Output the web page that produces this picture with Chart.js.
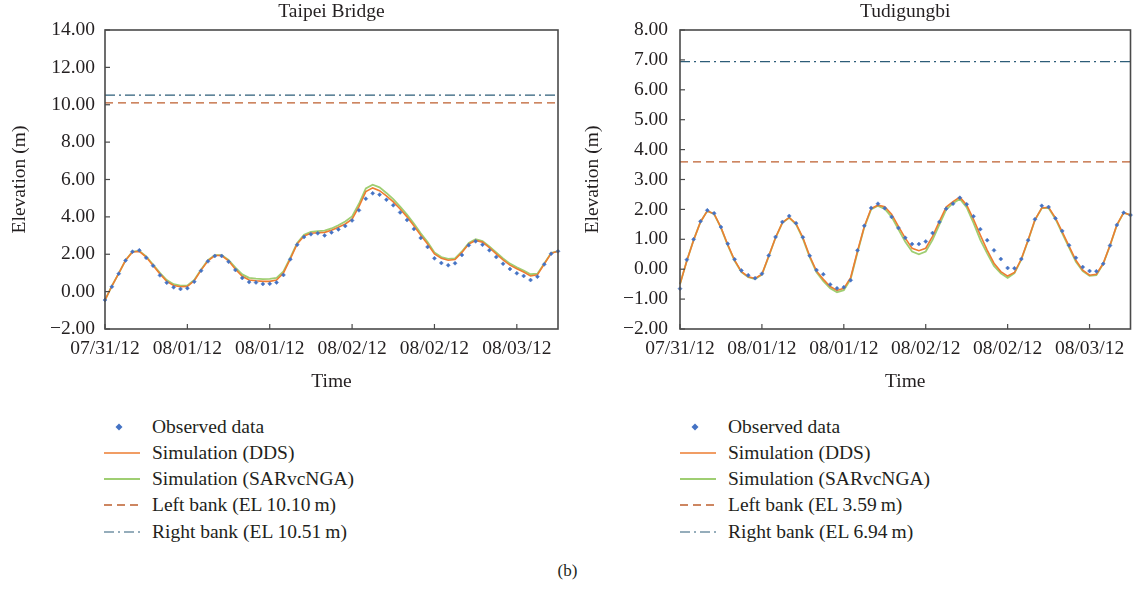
<!DOCTYPE html>
<html><head><meta charset="utf-8">
<script src="https://cdn.jsdelivr.net/npm/chart.js@4.4.1/dist/chart.umd.min.js"></script>
<style>
html,body{margin:0;padding:0;background:#fff;}
body{width:1135px;height:590px;position:relative;overflow:hidden;font-family:"Liberation Serif",serif;color:#231f20;}
canvas{position:absolute;top:0;}
#c1{left:0;} #c2{left:567px;}
.legend{position:absolute;top:413.5px;font-size:19.5px;line-height:26.3px;}
.legend .row{position:relative;height:26.3px;width:320px;white-space:nowrap;}
.legend svg{position:absolute;left:0;top:0;}
.legend span{position:absolute;left:48px;top:0;}
#lg1{left:104px;} #lg2{left:680px;}
#cap{position:absolute;left:0;width:1135px;text-align:center;top:561px;font-size:17px;}
</style></head>
<body>
<canvas id="c1" width="567" height="400"></canvas>
<canvas id="c2" width="568" height="400"></canvas>
<div class="legend" id="lg1"></div>
<div class="legend" id="lg2"></div>
<div id="cap">(b)</div>
<script>
// ---------- data ----------
const TIME_LABELS = ["07/31/12","08/01/12","08/01/12","08/02/12","08/02/12","08/03/12"];
const SERIES_NAMES = ["Observed data","Simulation (DDS)","Simulation (SARvcNGA)"];

const TB_TITLE = "Taipei Bridge";
const TB_OBS = [-0.45,0.26,0.96,1.67,2.14,2.21,1.81,1.39,0.87,0.48,0.23,0.14,0.18,0.53,1.12,1.62,1.91,1.91,1.60,1.16,0.73,0.51,0.49,0.41,0.42,0.49,0.89,1.73,2.51,2.92,3.07,3.12,3.01,3.17,3.33,3.51,3.81,4.35,4.97,5.26,5.19,4.92,4.62,4.24,3.83,3.35,2.87,2.39,1.78,1.53,1.41,1.52,1.96,2.48,2.69,2.51,2.21,1.85,1.49,1.21,0.98,0.84,0.62,0.80,1.46,2.03,2.16];
const TB_DDS = [-0.45,0.30,0.98,1.68,2.12,2.15,1.85,1.40,0.95,0.55,0.33,0.26,0.28,0.58,1.15,1.65,1.93,1.93,1.65,1.20,0.82,0.62,0.58,0.55,0.55,0.62,1.00,1.75,2.55,2.98,3.12,3.15,3.17,3.28,3.45,3.62,3.88,4.55,5.35,5.55,5.40,5.12,4.80,4.42,4.00,3.52,3.02,2.55,2.02,1.78,1.68,1.72,2.10,2.55,2.74,2.65,2.35,2.02,1.70,1.42,1.22,1.05,0.84,0.90,1.48,2.05,2.16];
const TB_SAR = [-0.45,0.30,0.98,1.68,2.14,2.18,1.88,1.45,1.00,0.62,0.40,0.32,0.33,0.62,1.18,1.68,1.95,1.95,1.70,1.28,0.92,0.74,0.70,0.67,0.68,0.74,1.08,1.82,2.60,3.05,3.20,3.24,3.26,3.38,3.55,3.75,4.02,4.70,5.52,5.72,5.58,5.28,4.95,4.55,4.12,3.64,3.12,2.65,2.10,1.85,1.75,1.78,2.15,2.60,2.80,2.70,2.42,2.10,1.78,1.50,1.30,1.13,0.93,0.96,1.50,2.07,2.17];
const TB_LEFT_BANK = 10.10;
const TB_RIGHT_BANK = 10.51;
const TB_Y_MIN = -2, TB_Y_MAX = 14, TB_Y_STEP = 2;

const TD_TITLE = "Tudigungbi";
const TD_OBS = [-0.65,0.32,1.00,1.60,1.97,1.87,1.41,0.85,0.33,-0.04,-0.20,-0.30,-0.15,0.46,1.08,1.58,1.78,1.54,1.07,0.45,-0.03,-0.17,-0.51,-0.64,-0.60,-0.37,0.63,1.45,2.05,2.19,2.04,1.75,1.38,1.05,0.84,0.84,0.93,1.21,1.58,2.02,2.19,2.39,2.17,1.77,1.34,0.97,0.63,0.34,0.04,0.03,0.34,0.97,1.67,2.12,2.08,1.70,1.28,0.80,0.38,0.07,-0.06,-0.07,0.18,0.79,1.48,1.89,1.81];
const TD_DDS = [-0.50,0.28,0.98,1.58,1.95,1.85,1.40,0.82,0.30,-0.08,-0.25,-0.31,-0.17,0.44,1.06,1.56,1.73,1.52,1.06,0.44,-0.06,-0.34,-0.58,-0.71,-0.64,-0.28,0.60,1.43,2.03,2.14,2.09,1.84,1.43,1.04,0.70,0.62,0.70,1.10,1.60,2.08,2.26,2.41,2.15,1.67,1.14,0.64,0.20,-0.08,-0.23,-0.11,0.34,0.98,1.65,2.05,2.07,1.72,1.25,0.77,0.30,-0.03,-0.20,-0.17,0.19,0.80,1.48,1.89,1.81];
const TD_SAR = [-0.50,0.28,0.98,1.58,1.95,1.84,1.38,0.80,0.28,-0.10,-0.27,-0.33,-0.18,0.43,1.05,1.55,1.72,1.50,1.02,0.40,-0.10,-0.40,-0.64,-0.77,-0.70,-0.33,0.56,1.40,2.00,2.12,2.02,1.75,1.33,0.92,0.59,0.50,0.59,0.98,1.49,1.99,2.21,2.35,2.07,1.55,0.98,0.53,0.11,-0.14,-0.29,-0.13,0.32,0.96,1.64,2.04,2.05,1.68,1.20,0.72,0.25,-0.06,-0.22,-0.20,0.18,0.79,1.47,1.89,1.81];
const TD_LEFT_BANK = 3.59;
const TD_RIGHT_BANK = 6.94;
const TD_Y_MIN = -2, TD_Y_MAX = 8, TD_Y_STEP = 1;

const X_MAX_HOURS = 66, X_STEP_HOURS = 12;

// ---------- styles ----------
const FONT = '"Liberation Serif", serif';
const TEXT_COLOR = '#231f20';
const AXIS_COLOR = '#4a4a4a';
const C_OBS = '#4472c4';
const C_DDS = '#ed7d31';
const C_SAR = '#9fce72';
const C_LEFT = '#bd5f2e';
const C_RIGHT = '#2d5d78';
const DASH_LEFT = [8,5];
const DASH_RIGHT = [10,4,2,4];

const framePlugin = {
  id: 'frame',
  afterDraw(chart) {
    const {ctx, chartArea: a, scales: {x, y}} = chart;
    ctx.save();
    ctx.strokeStyle = AXIS_COLOR;
    ctx.lineWidth = 1.6;
    ctx.strokeRect(a.left, a.top, a.right - a.left, a.bottom - a.top);
    ctx.lineWidth = 1.2;
    y.ticks.forEach(t => {
      const p = y.getPixelForValue(t.value);
      ctx.beginPath(); ctx.moveTo(a.left, p); ctx.lineTo(a.left + 5, p); ctx.stroke();
    });
    x.ticks.forEach(t => {
      const p = x.getPixelForValue(t.value);
      ctx.beginPath(); ctx.moveTo(p, a.bottom); ctx.lineTo(p, a.bottom - 5); ctx.stroke();
    });
    ctx.restore();
  }
};

function pts(arr) { return arr.map((v, i) => ({x: i, y: v})); }
function flat(v) { return [{x: 0, y: v}, {x: X_MAX_HOURS, y: v}]; }

function makeChart(id, title, obs, dds, sar, lb, rb, ymin, ymax, ystep, yAxisWidth, yTitlePad, yTickPad, padRight) {
  return new Chart(document.getElementById(id), {
    type: 'line',
    data: {
      datasets: [
        {label: SERIES_NAMES[0], data: pts(obs), showLine: false, pointStyle: 'rectRot', pointRadius: 2,
         pointBackgroundColor: C_OBS, pointBorderColor: C_OBS, pointBorderWidth: 0.5, clip: false},
        {label: SERIES_NAMES[1], data: pts(dds), borderColor: C_DDS, borderWidth: 1.6, pointRadius: 0, tension: 0, clip: false},
        {label: SERIES_NAMES[2], data: pts(sar), borderColor: C_SAR, borderWidth: 1.8, pointRadius: 0, tension: 0, clip: false},
        {label: 'Left bank', data: flat(lb), borderColor: C_LEFT, borderWidth: 1.4, borderDash: DASH_LEFT, pointRadius: 0},
        {label: 'Right bank', data: flat(rb), borderColor: C_RIGHT, borderWidth: 1.2, borderDash: DASH_RIGHT, pointRadius: 0}
      ]
    },
    options: {
      responsive: false,
      animation: false,
      events: [],
      layout: {padding: {left: 0, right: padRight, top: 0, bottom: 0}},
      plugins: {
        legend: {display: false},
        tooltip: {enabled: false},
        title: {display: true, text: title, fullSize: false, color: TEXT_COLOR,
                font: {family: FONT, size: 19.5, weight: 'normal', lineHeight: 1},
                padding: {top: 2, bottom: 8.5}}
      },
      scales: {
        x: {
          type: 'linear', min: 0, max: X_MAX_HOURS,
          grid: {display: false, drawTicks: false},
          border: {display: false},
          ticks: {stepSize: X_STEP_HOURS, includeBounds: false, autoSkip: false, maxRotation: 0,
                  padding: 8, color: TEXT_COLOR, font: {family: FONT, size: 19.5},
                  callback: v => TIME_LABELS[Math.round(v / X_STEP_HOURS)]},
          title: {display: true, text: 'Time', color: TEXT_COLOR, font: {family: FONT, size: 19.5, lineHeight: 1.2},
                  padding: {top: 4, bottom: 6}},
          afterFit(s) { s.height = 71; }
        },
        y: {
          min: ymin, max: ymax,
          grid: {display: false, drawTicks: false},
          border: {display: false},
          ticks: {stepSize: ystep, padding: yTickPad, color: TEXT_COLOR, font: {family: FONT, size: 19.5},
                  callback: v => v.toFixed(2).replace('-', '\u2212')},
          title: {display: true, text: 'Elevation (m)', color: TEXT_COLOR, font: {family: FONT, size: 19.5, lineHeight: 1.2},
                  padding: {top: yTitlePad, bottom: 4}},
          afterFit(s) { s.width = yAxisWidth; }
        }
      }
    },
    plugins: [framePlugin]
  });
}

makeChart('c1', TB_TITLE, TB_OBS, TB_DDS, TB_SAR, TB_LEFT_BANK, TB_RIGHT_BANK, TB_Y_MIN, TB_Y_MAX, TB_Y_STEP, 105, 8, 10, 9);
makeChart('c2', TD_TITLE, TD_OBS, TD_DDS, TD_SAR, TD_LEFT_BANK, TD_RIGHT_BANK, TD_Y_MIN, TD_Y_MAX, TD_Y_STEP, 113, 14, 12, 3);

// ---------- HTML legends ----------
function legendHTML(lb, rb) {
  const items = [
    {svg: '<path d="M15 9.5 L18.5 13 L15 16.5 L11.5 13 Z" fill="' + C_OBS + '"/>', text: SERIES_NAMES[0]},
    {svg: '<line x1="0" y1="13" x2="36" y2="13" stroke="' + C_DDS + '" stroke-width="1.6"/>', text: SERIES_NAMES[1]},
    {svg: '<line x1="0" y1="13" x2="36" y2="13" stroke="' + C_SAR + '" stroke-width="1.8"/>', text: SERIES_NAMES[2]},
    {svg: '<line x1="0" y1="13" x2="36" y2="13" stroke="' + C_LEFT + '" stroke-width="1.4" stroke-dasharray="' + DASH_LEFT.join(',') + '"/>',
     text: 'Left bank (EL ' + lb.toFixed(2) + '\u2009m)'},
    {svg: '<line x1="0" y1="13" x2="36" y2="13" stroke="' + C_RIGHT + '" stroke-width="1.2" stroke-dasharray="' + DASH_RIGHT.join(',') + '"/>',
     text: 'Right bank (EL ' + rb.toFixed(2) + '\u2009m)'}
  ];
  return items.map(it => '<div class="row"><svg width="36" height="26">' + it.svg + '</svg><span>' + it.text + '</span></div>').join('');
}
document.getElementById('lg1').innerHTML = legendHTML(TB_LEFT_BANK, TB_RIGHT_BANK);
document.getElementById('lg2').innerHTML = legendHTML(TD_LEFT_BANK, TD_RIGHT_BANK);
</script>
</body></html>
